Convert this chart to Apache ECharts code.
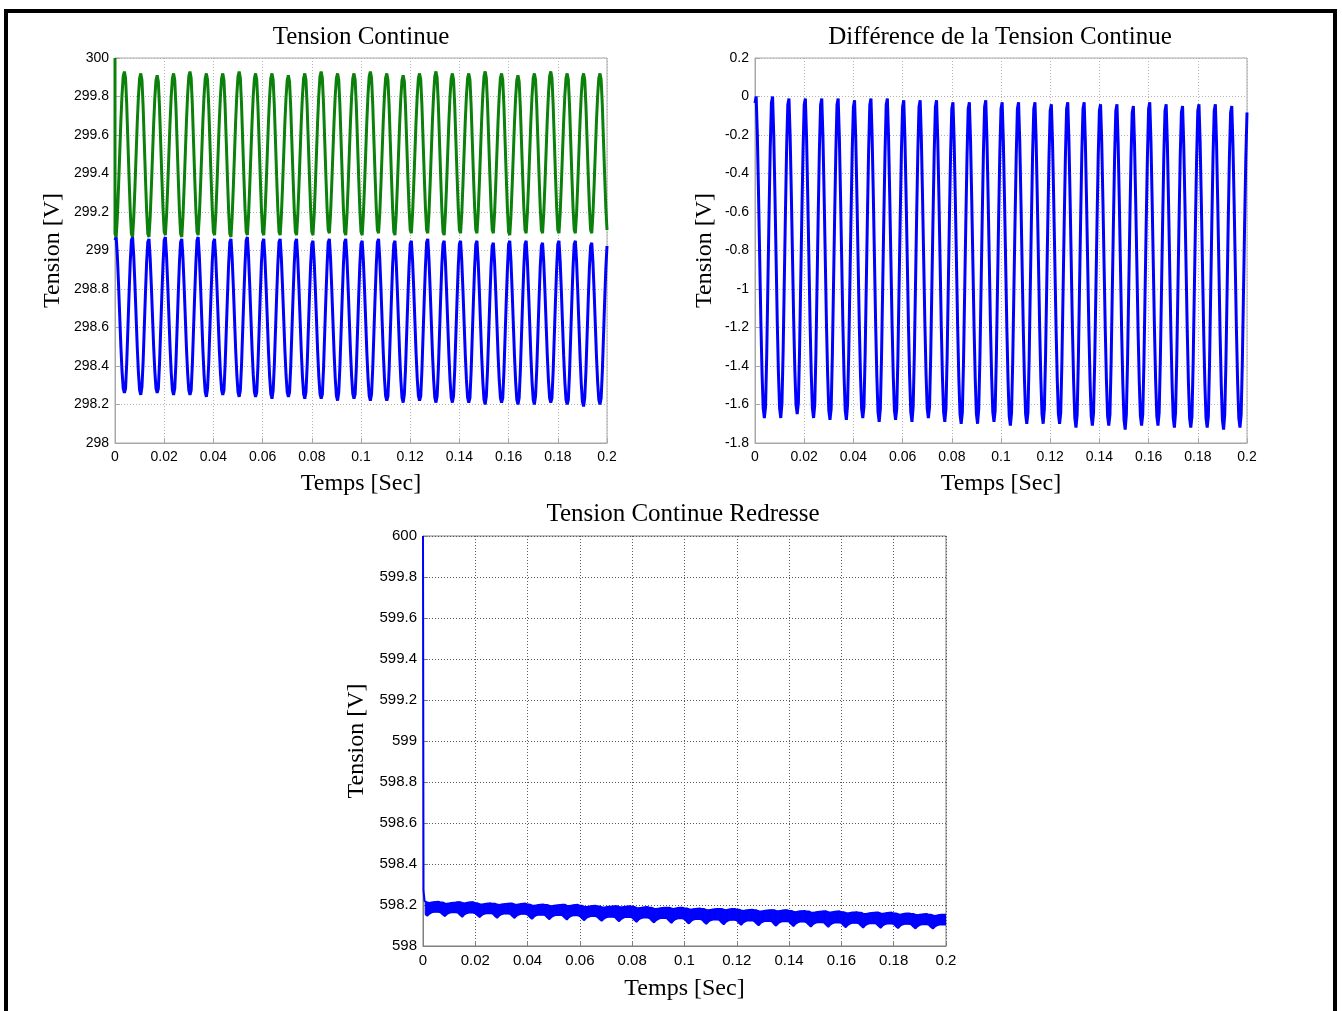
<!DOCTYPE html>
<html>
<head>
<meta charset="utf-8">
<title>Tension Continue</title>
<script src="https://cdn.jsdelivr.net/npm/echarts@6/dist/echarts.min.js"></script>
<style>
  html, body { margin: 0; padding: 0; background: #fff; }
  #chart { width: 1342px; height: 1011px; }
</style>
</head>
<body>
<div id="chart"></div>
<script>
// ---------------- data ----------------
// time axis ticks (s)
const timeTicks = [0, 0.02, 0.04, 0.06, 0.08, 0.1, 0.12, 0.14, 0.16, 0.18, 0.2];
// y-axis ticks of the three panels
const dcTicks = [298, 298.2, 298.4, 298.6, 298.8, 299, 299.2, 299.4, 299.6, 299.8, 300];
const diffTicks = [-1.8, -1.6, -1.4, -1.2, -1, -0.8, -0.6, -0.4, -0.2, 0, 0.2];
const rectTicks = [598, 598.2, 598.4, 598.6, 598.8, 599, 599.2, 599.4, 599.6, 599.8, 600];

// ripple frequency of the DC link (Hz)
const rippleFreq = 150;

// capacitor voltage Vc2 (green): maximum / minimum of each ripple period
const vc2Peaks = [299.93, 299.92, 299.91, 299.92, 299.93, 299.92, 299.92, 299.93, 299.92, 299.92,
                  299.91, 299.92, 299.93, 299.92, 299.92, 299.93, 299.92, 299.91, 299.92, 299.93,
                  299.92, 299.92, 299.93, 299.92, 299.91, 299.92, 299.93, 299.92, 299.92, 299.92];
const vc2Troughs = [299.07, 299.07, 299.07, 299.08, 299.07, 299.08, 299.08, 299.07, 299.08, 299.08,
                    299.08, 299.08, 299.08, 299.09, 299.08, 299.08, 299.09, 299.08, 299.09, 299.09,
                    299.08, 299.09, 299.09, 299.09, 299.08, 299.09, 299.09, 299.09, 299.09, 299.09];
// capacitor voltage Vc1 (blue): maximum / minimum of each ripple period
const vc1Peaks = [299.07, 299.07, 299.06, 299.07, 299.06, 299.07, 299.06, 299.06, 299.07, 299.06,
                  299.06, 299.06, 299.05, 299.06, 299.06, 299.05, 299.06, 299.05, 299.05, 299.06,
                  299.05, 299.05, 299.05, 299.04, 299.05, 299.05, 299.04, 299.05, 299.05, 299.04];
const vc1Troughs = [298.26, 298.25, 298.26, 298.25, 298.25, 298.24, 298.25, 298.24, 298.24, 298.23,
                    298.24, 298.23, 298.23, 298.22, 298.23, 298.22, 298.22, 298.21, 298.22, 298.21,
                    298.21, 298.21, 298.20, 298.21, 298.20, 298.20, 298.21, 298.20, 298.19, 298.20];
// sampled (staircase) profile of one ripple period, 0 = minimum, 1 = maximum
const rippleProfile = [0.02, 0.0, 0.12, 0.3, 0.5, 0.7, 0.86, 0.97, 1.0, 0.96, 0.8, 0.58, 0.36, 0.16];
// start value of Vc2
const vc2Start = 300;

// rectified DC voltage: upper edge, body lower edge and notch bottom per ripple period
const rectTop = [598.216, 598.212, 598.214, 598.208, 598.206, 598.207, 598.202, 598.200, 598.201, 598.196,
                 598.193, 598.194, 598.190, 598.186, 598.187, 598.183, 598.180, 598.181, 598.177, 598.174,
                 598.175, 598.171, 598.168, 598.169, 598.165, 598.162, 598.163, 598.159, 598.156, 598.153];
const rectBody = [598.167, 598.165, 598.163, 598.160, 598.158, 598.157, 598.153, 598.151, 598.150, 598.146,
                  598.143, 598.142, 598.139, 598.136, 598.135, 598.132, 598.129, 598.128, 598.125, 598.122,
                  598.121, 598.119, 598.116, 598.115, 598.113, 598.111, 598.110, 598.108, 598.106, 598.105];
const rectNotch = [598.148, 598.146, 598.143, 598.141, 598.138, 598.137, 598.133, 598.131, 598.129, 598.126,
                   598.123, 598.121, 598.118, 598.115, 598.113, 598.110, 598.108, 598.106, 598.103, 598.101,
                   598.099, 598.097, 598.095, 598.094, 598.092, 598.090, 598.089, 598.088, 598.086, 598.085];
// profile of the notch on the lower edge and dip on the upper edge (one period)
const notchProfile = [0, 0.55, 1, 0.45, 0.15, 0, 0, 0];
const topDipProfile = [0, 0, 0.004, 0.006, 0.004, 0.002, 0.001, 0];
// start transient of the rectified voltage [t, V]
const rectStart = [[0, 600], [0.0002, 598.27], [0.0006, 598.22], [0.00083, 598.216]];

// ---------------- series construction ----------------
const tEnd = 0.2;
const period = 1 / rippleFreq;
const nCycles = vc2Peaks.length;
const clampCycle = k => Math.max(0, Math.min(nCycles - 1, k));

function rippleValue(peaks, troughs, i, inverted) {
  const P = rippleProfile.length;
  const k = Math.floor(i / P);
  const j = ((i % P) + P) % P;
  const kc = clampCycle(k);
  const pk = peaks[kc];
  const tr = j <= 8 ? troughs[kc] : troughs[clampCycle(k + 1)];
  const f = rippleProfile[j];
  return inverted ? pk - f * (pk - tr) : tr + f * (pk - tr);
}

const dtRipple = period / rippleProfile.length;
const nRipple = Math.round(tEnd / dtRipple);
const vc1 = [], vc2 = [[0, vc2Start]], vdiff = [];
for (let i = 0; i <= nRipple; i++) {
  const t = +(i * dtRipple).toFixed(7);
  const b = rippleValue(vc1Peaks, vc1Troughs, i, true);   // Vc1 in phase opposition
  const g = rippleValue(vc2Peaks, vc2Troughs, i, false);
  vc1.push([t, b]);
  vc2.push([t, g]);
  vdiff.push([t, b - g]);
}

// rectified voltage band rows: [t, lower, upper]
const dtRect = period / notchProfile.length;
const nRect = Math.round(tEnd / dtRect);
const rectRows = [];
for (let i = 1; i <= nRect; i++) {
  const t = +(i * dtRect).toFixed(7);
  const k = clampCycle(Math.floor(i / notchProfile.length));
  const j = i % notchProfile.length;
  const lower = rectBody[k] - notchProfile[j] * (rectBody[k] - rectNotch[k]);
  const upper = rectTop[k] - topDipProfile[j];
  rectRows.push([t, lower, upper]);
}
const rectLower = rectRows.map(r => [r[0], r[1]]);
const rectUpper = rectRows.map(r => [r[0], r[2]]);

// ---------------- chart ----------------
const SERIF = "'Liberation Serif', 'Times New Roman', serif";
const SANS = "'Liberation Sans', Arial, sans-serif";
const BLUE = '#0000ff';
const GREEN = '#0b800b';

function fmt(v) { return String(parseFloat(v.toFixed(2))); }

function xAxisOf(gi, frame, grid, fontSize, gap) {
  return {
    type: 'value', gridIndex: gi,
    min: timeTicks[0], max: timeTicks[timeTicks.length - 1], interval: timeTicks[1] - timeTicks[0],
    axisLine: { show: true, onZero: false, lineStyle: { color: frame, width: 1 } },
    axisTick: { show: true, inside: true, length: 5, lineStyle: { color: frame } },
    axisLabel: { color: '#000', fontFamily: SANS, fontSize: fontSize, margin: 7, formatter: fmt },
    splitLine: { show: true, lineStyle: { color: grid, type: [1, 2], width: 1 } },
    name: 'Temps [Sec]', nameLocation: 'middle', nameGap: gap,
    nameTextStyle: { fontFamily: SERIF, fontSize: 24, color: '#000' }
  };
}
function yAxisOf(gi, ticks, frame, grid, fontSize, gap) {
  return {
    type: 'value', gridIndex: gi,
    min: ticks[0], max: ticks[ticks.length - 1], interval: +(ticks[1] - ticks[0]).toFixed(4),
    axisLine: { show: true, onZero: false, lineStyle: { color: frame, width: 1 } },
    axisTick: { show: true, inside: true, length: 5, lineStyle: { color: frame } },
    axisLabel: { color: '#000', fontFamily: SANS, fontSize: fontSize, margin: 6, formatter: fmt },
    splitLine: { show: true, lineStyle: { color: grid, type: [1, 2], width: 1 } },
    name: 'Tension [V]', nameLocation: 'middle', nameGap: gap, nameRotate: 90,
    nameTextStyle: { fontFamily: SERIF, fontSize: 24, color: '#000' }
  };
}
function lineSeries(xi, data, color, width, extra) {
  return Object.assign({
    type: 'line', xAxisIndex: xi, yAxisIndex: xi, data: data,
    showSymbol: false, symbol: 'none', animation: false, silent: true,
    lineStyle: { color: color, width: width }, itemStyle: { color: color }
  }, extra || {});
}

// filled band between the lower and upper edge of the rectified voltage
const bandSeries = {
  type: 'custom', xAxisIndex: 2, yAxisIndex: 2, silent: true, animation: false,
  clip: true, data: rectRows, encode: { x: 0, y: [1, 2] },
  renderItem: function (params, api) {
    const i = params.dataIndex;
    if (i >= rectRows.length - 1) return null;
    const a = rectRows[i], b = rectRows[i + 1];
    const pts = [
      api.coord([a[0], a[1]]), api.coord([a[0], a[2]]),
      api.coord([b[0], b[2]]), api.coord([b[0], b[1]])
    ];
    return { type: 'polygon', shape: { points: pts }, style: { fill: BLUE, stroke: BLUE, lineWidth: 1 } };
  }
};

const chart = echarts.init(document.getElementById('chart'), null, { renderer: 'canvas' });
chart.setOption({
  backgroundColor: '#fff',
  animation: false,
  grid: [
    { left: 115, top: 58, width: 492, height: 385, show: true, borderColor: '#a8a8a8', borderWidth: 1 },
    { left: 755, top: 58, width: 492, height: 385, show: true, borderColor: '#a8a8a8', borderWidth: 1 },
    { left: 423, top: 536, width: 523, height: 410, show: true, borderColor: '#808080', borderWidth: 1 }
  ],
  xAxis: [
    xAxisOf(0, '#a8a8a8', '#b4b4b4', 14, 29),
    xAxisOf(1, '#a8a8a8', '#b4b4b4', 14, 29),
    xAxisOf(2, '#808080', '#5a5a5a', 15, 31)
  ],
  yAxis: [
    yAxisOf(0, dcTicks, '#a8a8a8', '#b4b4b4', 14, 50),
    yAxisOf(1, diffTicks, '#a8a8a8', '#b4b4b4', 14, 38),
    yAxisOf(2, rectTicks, '#808080', '#5a5a5a', 15, 54)
  ],
  series: [
    lineSeries(0, vc1, BLUE, 3, { step: 'end' }),
    lineSeries(0, vc2, GREEN, 3, { step: 'end' }),
    lineSeries(1, vdiff, BLUE, 3, { step: 'end' }),
    lineSeries(2, rectStart, BLUE, 2),
    bandSeries,
    lineSeries(2, rectLower, BLUE, 2),
    lineSeries(2, rectUpper, BLUE, 2)
  ],
  graphic: [
    { type: 'text', x: 361, y: 37, style: { text: 'Tension Continue', font: '25px ' + SERIF, fill: '#000', textAlign: 'center', textVerticalAlign: 'middle' } },
    { type: 'text', x: 1000, y: 37, style: { text: 'Différence de la Tension Continue', font: '25px ' + SERIF, fill: '#000', textAlign: 'center', textVerticalAlign: 'middle' } },
    { type: 'text', x: 683, y: 514, style: { text: 'Tension Continue Redresse', font: '25px ' + SERIF, fill: '#000', textAlign: 'center', textVerticalAlign: 'middle' } },
    // outer frame
    { type: 'rect', shape: { x: 4, y: 9, width: 1333, height: 4 }, style: { fill: '#000' }, silent: true },
    { type: 'rect', shape: { x: 4, y: 9, width: 4, height: 1002 }, style: { fill: '#000' }, silent: true },
    { type: 'rect', shape: { x: 1333, y: 9, width: 4, height: 1002 }, style: { fill: '#000' }, silent: true }
  ]
});
</script>
</body>
</html>
